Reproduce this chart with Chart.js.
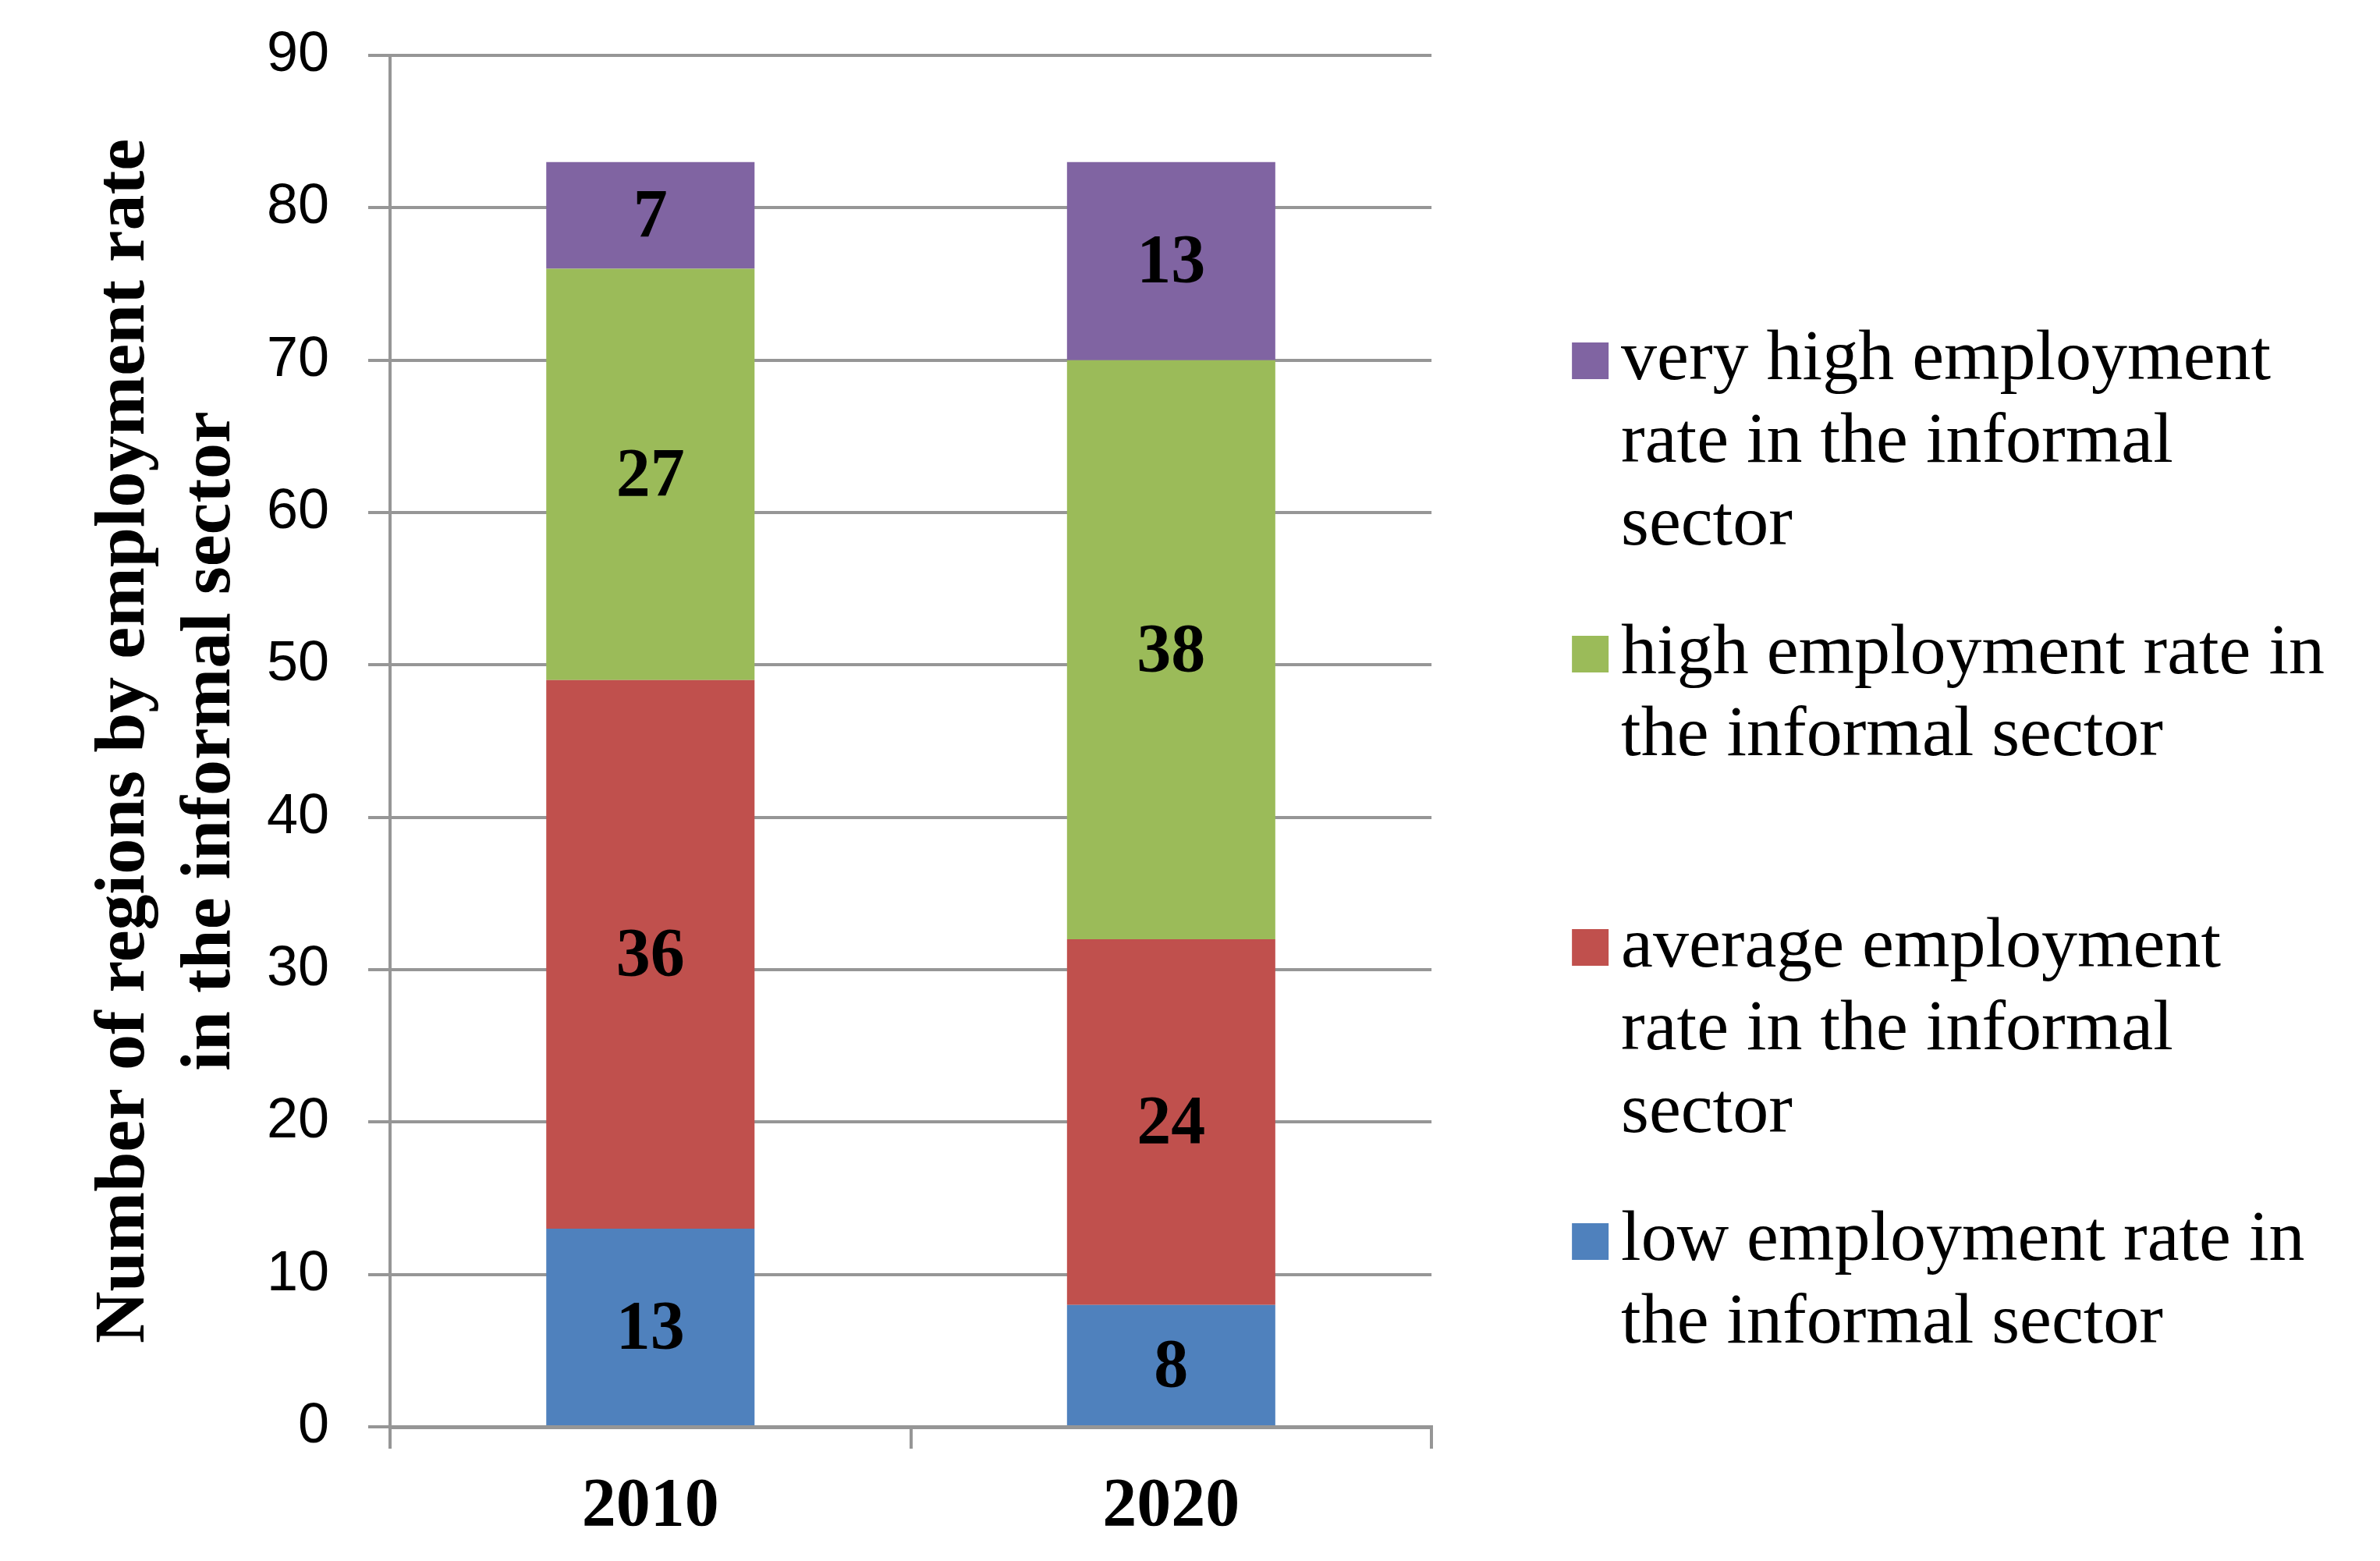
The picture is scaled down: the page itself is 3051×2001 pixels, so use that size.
<!DOCTYPE html>
<html><head><meta charset="utf-8">
<script src="https://cdn.jsdelivr.net/npm/chart.js@4.4.1/dist/chart.umd.min.js"></script>
<style>html,body{margin:0;padding:0;background:#fff;overflow:hidden}canvas{display:block}</style>
</head><body>
<canvas id="c" width="3051" height="2001" style="width:3051px;height:2001px"></canvas>
<script>
// ---- data ----
const categories = ['2010', '2020'];
const lowValues = [13, 8];
const averageValues = [36, 24];
const highValues = [27, 38];
const veryHighValues = [7, 13];
const seriesLabels = [
  ['low employment rate in', 'the informal sector'],
  ['average employment', 'rate in the informal', 'sector'],
  ['high employment rate in', 'the informal sector', ''],
  ['very high employment', 'rate in the informal', 'sector']
];
const seriesColors = ['#4F81BD', '#C0504D', '#9BBB59', '#8064A2'];
const yMin = 0, yMax = 90, yStep = 10;
const yTitle = ['Number of regions by employment rate', 'in the informal sector'];

const SERIF = '"Liberation Serif", "Times New Roman", serif';
const SANS = '"Liberation Sans", Arial, sans-serif';
const GRID = '#969696';

function makeSwatch(color) {
  const c = document.createElement('canvas');
  c.width = 94; c.height = 47;
  const g = c.getContext('2d');
  g.fillStyle = color;
  g.fillRect(31, 0, 47, 47);
  return c;
}
const swatches = seriesColors.map(makeSwatch);

const valueLabels = {
  id: 'valueLabels',
  afterDatasetsDraw(chart) {
    const ctx = chart.ctx;
    ctx.save();
    ctx.font = 'bold 88px ' + SERIF;
    ctx.fillStyle = '#000';
    ctx.textAlign = 'center';
    ctx.textBaseline = 'middle';
    chart.data.datasets.forEach((ds, i) => {
      const meta = chart.getDatasetMeta(i);
      if (meta.hidden) return;
      meta.data.forEach((el, j) => {
        const p = el.getProps(['x', 'y', 'base'], true);
        ctx.fillText(String(ds.data[j]), p.x, (p.y + p.base) / 2 + 4);
      });
    });
    ctx.restore();
  }
};

const dataValues = [lowValues, averageValues, highValues, veryHighValues];

new Chart(document.getElementById('c'), {
  type: 'bar',
  data: {
    labels: categories,
    datasets: dataValues.map((vals, i) => ({
      label: seriesLabels[i].join(' '),
      data: vals,
      backgroundColor: seriesColors[i],
      borderWidth: 0,
      barPercentage: 0.4,
      categoryPercentage: 1.0
    }))
  },
  options: {
    responsive: false,
    devicePixelRatio: 1,
    animation: false,
    layout: { padding: { top: 71, right: 61, bottom: 0, left: 0 } },
    scales: {
      x: {
        stacked: true,
        grid: { display: true, drawOnChartArea: false, drawTicks: true, tickLength: 28, color: GRID, lineWidth: 4, offset: true },
        border: { display: true, color: GRID, width: 5 },
        ticks: { color: '#000', font: { family: SERIF, size: 88, weight: 'bold' }, padding: 22 },
        afterFit(s) { s.height = 172; }
      },
      y: {
        stacked: true,
        min: yMin, max: yMax,
        ticks: { stepSize: yStep, color: '#000', font: { family: SANS, size: 72 }, padding: 50 },
        grid: { color: GRID, lineWidth: 4, tickLength: 28, drawTicks: true },
        border: { display: true, color: GRID, width: 4 },
        title: {
          display: true, text: yTitle, color: '#000',
          font: { family: SERIF, size: 92, weight: 'bold', lineHeight: '110px' },
          padding: { top: 105, bottom: 0 }
        },
        afterFit(s) { s.width = 500; s.paddingTop = 0; s.paddingBottom = 0; }
      },
      gap: {
        type: 'linear', position: 'right', display: true,
        grid: { display: false }, ticks: { display: false }, border: { display: false },
        afterFit(s) { s.width = 136; s.paddingTop = 0; s.paddingBottom = 0; }
      }
    },
    plugins: {
      tooltip: { enabled: false },
      legend: {
        position: 'right',
        align: 'start',
        maxWidth: 1100,
        title: { display: true, text: ' ', font: { size: 10 }, padding: { top: 274, bottom: 0 } },
        labels: {
          color: '#000',
          font: { family: SERIF, size: 92, lineHeight: 1.15 },
          padding: 59,
          usePointStyle: true,
          pointStyleWidth: 2,
          boxHeight: 47,
          generateLabels(chart) {
            return chart.data.datasets.map((ds, i) => ({
              text: seriesLabels[i],
              fillStyle: ds.backgroundColor,
              strokeStyle: ds.backgroundColor,
              fontColor: '#000',
              lineWidth: 0,
              pointStyle: swatches[i],
              hidden: !chart.isDatasetVisible(i),
              datasetIndex: i
            })).reverse();
          }
        }
      }
    }
  },
  plugins: [valueLabels]
});
</script>
</body></html>
